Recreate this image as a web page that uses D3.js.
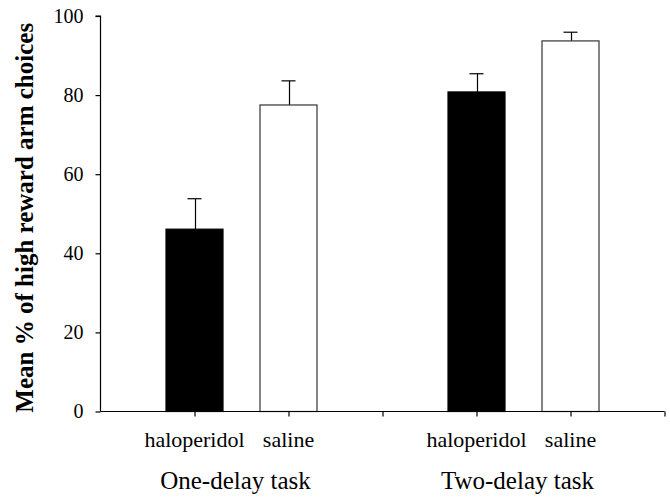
<!DOCTYPE html>
<html>
<head>
<meta charset="utf-8">
<script src="https://cdn.jsdelivr.net/npm/d3@7"></script>
<style>
  body { margin: 0; background: #fff; }
  svg { display: block; }
  text { font-family: "Liberation Serif", "Times New Roman", serif; fill: #000; }
</style>
</head>
<body>
<div id="chart"></div>
<script>
const width = 670;
const height = 497;

// data
const tasks = ["One-delay task", "Two-delay task"];
const treatments = ["haloperidol", "saline"];
const means = [[46.1, 77.5], [80.8, 93.7]];
const sems = [[7.7, 6.1], [4.6, 2.2]];
const yTicks = [0, 20, 40, 60, 80, 100];

// slot positions along the x axis: axis, halo, saline, gap, halo, saline, end
const slots = [0, 1, 2, 3, 4, 5, 6];

const svg = d3.select("#chart")
    .append("svg")
    .attr("width", width)
    .attr("height", height);

const x = d3.scalePoint()
    .domain(slots)
    .range([100.5, 664.5]);

const y = d3.scaleLinear()
    .domain([0, 100])
    .range([411.5, 16]);

const barWidth = 57;
const capWidth = 14;

const data = [];
tasks.forEach((t, ti) => {
    treatments.forEach((tr, ri) => {
        data.push({
            task: t,
            treatment: tr,
            slot: 1 + ti * 3 + ri,
            mean: means[ti][ri],
            sem: sems[ti][ri]
        });
    });
});

// error bars (upper only), drawn behind bars
const err = svg.append("g").attr("class", "errors");
err.selectAll(".stem")
    .data(data)
    .enter().append("line")
    .attr("x1", d => Math.round(x(d.slot)) + 0.5)
    .attr("x2", d => Math.round(x(d.slot)) + 0.5)
    .attr("y1", d => y(d.mean))
    .attr("y2", d => y(d.mean + d.sem))
    .attr("stroke", "#000")
    .attr("stroke-width", 1.2);
err.selectAll(".cap")
    .data(data)
    .enter().append("line")
    .attr("x1", d => x(d.slot) - capWidth / 2)
    .attr("x2", d => x(d.slot) + capWidth / 2)
    .attr("y1", d => y(d.mean + d.sem))
    .attr("y2", d => y(d.mean + d.sem))
    .attr("stroke", "#000")
    .attr("stroke-width", 1.2);

// bars
svg.selectAll(".bar")
    .data(data)
    .enter().append("rect")
    .attr("class", "bar")
    .attr("x", d => x(d.slot) - barWidth / 2)
    .attr("y", d => y(d.mean))
    .attr("width", barWidth)
    .attr("height", d => y(0) - y(d.mean))
    .attr("fill", d => d.treatment === "haloperidol" ? "#000" : "#fff")
    .attr("stroke", d => d.treatment === "haloperidol" ? "#000" : "#333")
    .attr("stroke-width", 1.2);

// y axis
const yAxis = d3.axisLeft(y)
    .tickValues(yTicks)
    .tickSize(5)
    .tickPadding(12);

svg.append("g")
    .attr("class", "y-axis")
    .attr("transform", `translate(${x(0)},0)`)
    .call(yAxis)
    .call(g => g.select(".domain").attr("d", `M-5,${y(100)}H0V${y(0)}`))
    .call(g => g.selectAll("line, path").attr("stroke", "#000").attr("stroke-width", 1.2))
    .call(g => g.selectAll("text").attr("font-size", "20px"));

// x axis with ticks at every slot
const xAxis = d3.axisBottom(x)
    .tickValues(slots.slice(1))
    .tickSize(5)
    .tickFormat("");

svg.append("g")
    .attr("class", "x-axis")
    .attr("transform", `translate(0,${y(0)})`)
    .call(xAxis)
    .call(g => g.select(".domain").attr("d", `M${x(0)},0H${x(6)}`))
    .call(g => g.selectAll("line, path").attr("stroke", "#000").attr("stroke-width", 1.2));

// treatment labels
svg.selectAll(".cat-label")
    .data(data)
    .enter().append("text")
    .attr("class", "cat-label")
    .attr("x", d => x(d.slot))
    .attr("y", 447)
    .attr("text-anchor", "middle")
    .attr("font-size", "22px")
    .text(d => d.treatment);

// task labels
svg.selectAll(".task-label")
    .data(tasks)
    .enter().append("text")
    .attr("class", "task-label")
    .attr("x", (d, i) => (x(1 + i * 3) + x(2 + i * 3)) / 2 - 6)
    .attr("y", 489)
    .attr("text-anchor", "middle")
    .attr("font-size", "25px")
    .text(d => d);

// y axis title
svg.append("text")
    .attr("transform", `translate(33,${(y(0) + y(100)) / 2 + 4}) rotate(-90)`)
    .attr("text-anchor", "middle")
    .attr("font-size", "25px")
    .attr("font-weight", "bold")
    .text("Mean % of high reward arm choices");
</script>
</body>
</html>
